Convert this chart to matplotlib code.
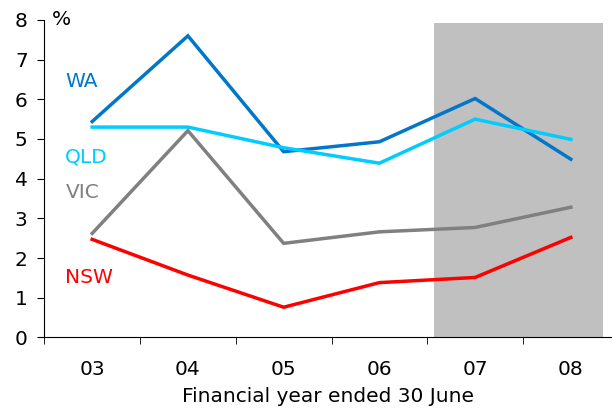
import numpy as np
import matplotlib
matplotlib.use('Agg')
import matplotlib.pyplot as plt
from matplotlib.ticker import FixedLocator

years = ['03', '04', '05', '06', '07', '08']
wa = [5.44, 7.60, 4.68, 4.93, 6.02, 4.49]
qld = [5.30, 5.30, 4.78, 4.39, 5.50, 4.99]
vic = [2.62, 5.21, 2.37, 2.66, 2.77, 3.28]
nsw = [2.47, 1.57, 0.76, 1.38, 1.51, 2.52]

plt.rcParams['font.family'] = ['DejaVu Sans']
fs = 14.5

fig = plt.figure(figsize=(6.12, 4.16), dpi=100)
ax = fig.add_axes([0.0724, 0.189, 0.9276, 0.763])

x = np.arange(len(years))
# shaded forecast period
ax.fill_between([3.57, 5.34], 0, 7.92, color='#c0c0c0', lw=0, zorder=0)

ax.plot(x, wa, color='#0077c8', lw=2.5, solid_joinstyle='miter')
ax.plot(x, qld, color='#00ccff', lw=2.5, solid_joinstyle='miter')
ax.plot(x, vic, color='#808080', lw=2.5, solid_joinstyle='miter')
ax.plot(x, nsw, color='#ff0000', lw=2.5, solid_joinstyle='miter')

ax.text(-0.28, 6.44, 'WA', color='#0077c8', fontsize=fs, va='center')
ax.text(-0.28, 4.55, 'QLD', color='#00ccff', fontsize=fs, va='center')
ax.text(-0.28, 3.66, 'VIC', color='#808080', fontsize=fs, va='center')
ax.text(-0.28, 1.52, 'NSW', color='#ff0000', fontsize=fs, va='center')
ax.text(-0.42, 8.0, '%', fontsize=fs, va='center')

ax.set_xlim(-0.5, 5.43)
ax.set_ylim(0, 8)
ax.set_yticks(range(0, 9))
ax.set_xticks(x)
ax.set_xticklabels(years)
ax.xaxis.set_minor_locator(FixedLocator(np.arange(-0.5, 5.5, 1)))
ax.tick_params(axis='x', which='major', length=0, pad=16, labelsize=fs)
ax.tick_params(axis='x', which='minor', length=5, direction='out')
ax.tick_params(axis='y', length=5, direction='out', pad=7, labelsize=fs)
ax.set_xlabel('Financial year ended 30 June', fontsize=fs, labelpad=6)

for s in ['top', 'right']:
    ax.spines[s].set_visible(False)

fig.savefig('out.png', dpi=100)
